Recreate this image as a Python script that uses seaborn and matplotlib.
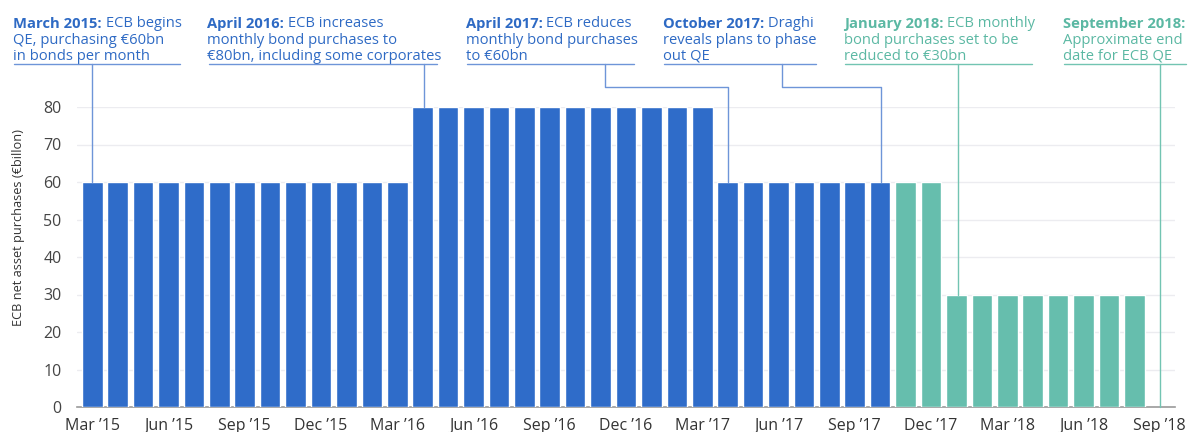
import matplotlib
matplotlib.use("Agg")
import matplotlib.pyplot as plt
import seaborn as sns
import pandas as pd

# ---- data ----
month_labels = ["Mar '15", "Apr '15", "May '15", "Jun '15", "Jul '15", "Aug '15", "Sep '15", "Oct '15",
                "Nov '15", "Dec '15", "Jan '16", "Feb '16", "Mar '16", "Apr '16", "May '16", "Jun '16",
                "Jul '16", "Aug '16", "Sep '16", "Oct '16", "Nov '16", "Dec '16", "Jan '17", "Feb '17",
                "Mar '17", "Apr '17", "May '17", "Jun '17", "Jul '17", "Aug '17", "Sep '17", "Oct '17",
                "Nov '17", "Dec '17", "Jan '18", "Feb '18", "Mar '18", "Apr '18", "May '18", "Jun '18",
                "Jul '18", "Aug '18"]
purchases = [60, 60, 60, 60, 60, 60, 60, 60, 60, 60, 60, 60, 60,
             80, 80, 80, 80, 80, 80, 80, 80, 80, 80, 80, 80,
             60, 60, 60, 60, 60, 60, 60,
             60, 60,
             30, 30, 30, 30, 30, 30, 30, 30]
phase = ["actual"] * 32 + ["planned"] * 10
tick_labels = ["Mar \u201915", "Jun \u201915", "Sep \u201915", "Dec \u201915", "Mar \u201916", "Jun \u201916",
               "Sep \u201916", "Dec \u201916", "Mar \u201917", "Jun \u201917", "Sep \u201917", "Dec \u201917",
               "Mar \u201918", "Jun \u201918", "Sep \u201918"]
y_ticks = [0, 10, 20, 30, 40, 50, 60, 70, 80]

BLUE = "#2f6cc9"
TEAL = "#66bead"
BLUE_TXT = "#2e6ac4"
TEAL_TXT = "#5bb8a3"
BLUE_LN = "#6e95d8"
TEAL_LN = "#72c4b2"

sns.set_theme(style="white")
plt.rcParams["font.family"] = ["Open Sans", "DejaVu Sans"]

df = pd.DataFrame({"month": month_labels, "value": purchases, "phase": phase})

fig = plt.figure(figsize=(11.9, 4.32), dpi=100)
ax = fig.add_axes([77 / 1190, 1 - 407 / 432, (1175 - 77) / 1190, 300 / 432])
sns.barplot(data=df, x="month", y="value", hue="phase", palette={"actual": BLUE, "planned": TEAL},
            dodge=False, width=0.81, saturation=1, legend=False, ax=ax, zorder=3)

ax.set_xlim(-0.6, 42.6)
ax.set_ylim(0, 80)
ax.set_yticks(y_ticks)
ax.set_yticklabels([str(v) for v in y_ticks], fontsize=11.5, color="#444444")
ax.set_xticks(range(0, 43, 3))
ax.set_xticklabels(tick_labels, fontsize=11.5, color="#333333")
ax.tick_params(axis="y", length=0, pad=11)
ax.tick_params(axis="x", length=0, pad=8)
ax.grid(axis="y", color="#ececf0", linewidth=1, zorder=0)
ax.set_axisbelow(True)
for s in ["top", "right", "left"]:
    ax.spines[s].set_visible(False)
ax.spines["bottom"].set_color("#9a9a9a")
ax.spines["bottom"].set_linewidth(1.2)
ax.set_xlabel("")
ax.set_ylabel("ECB net asset purchases (\u20acbillon)", fontsize=9.2, color="#333333")
ax.yaxis.set_label_coords(-0.047, 0.6)

RULE_Y = 91.6
ELBOW_Y = 85.3
LINE_Y = [101.0, 96.8, 92.6]

annotations = [
    # (text_x, rule_end, bold, rest_line1, line2, line3, path, text colour, line colour)
    (-3.11, 3.46, "March 2015:", " ECB begins", "QE, purchasing \u20ac60bn", "in bonds per month",
     [(0, RULE_Y), (0, 60)], BLUE_TXT, BLUE_LN),
    (4.53, 13.58, "April 2016:", " ECB increases", "monthly bond purchases to", "\u20ac80bn, including some corporates",
     [(13.05, RULE_Y), (13.05, 80)], BLUE_TXT, BLUE_LN),
    (14.69, 21.3, "April 2017:", " ECB reduces", "monthly bond purchases", "to \u20ac60bn",
     [(20.16, RULE_Y), (20.16, ELBOW_Y), (25, ELBOW_Y), (25, 60)], BLUE_TXT, BLUE_LN),
    (22.44, 28.46, "October 2017:", " Draghi", "reveals plans to phase", "out QE",
     [(27.13, RULE_Y), (27.13, ELBOW_Y), (31.05, ELBOW_Y), (31.05, 60)], BLUE_TXT, BLUE_LN),
    (29.57, 36.97, "January 2018:", " ECB monthly", "bond purchases set to be", "reduced to \u20ac30bn",
     [(34.05, RULE_Y), (34.05, 30)], TEAL_TXT, TEAL_LN),
    (38.19, 43.03, "September 2018:", "", "Approximate end", "date for ECB QE",
     [(42, RULE_Y), (42, 0)], TEAL_TXT, TEAL_LN),
]

FS = 10.6
for tx, rx, bold, rest, l2, l3, path, tc, lc in annotations:
    t = ax.text(tx, LINE_Y[0], bold, fontsize=FS, fontweight="bold", color=tc, va="baseline", ha="left",
                clip_on=False)
    if rest:
        ax.annotate(rest, xy=(1, 0), xycoords=t, va="bottom", ha="left", fontsize=FS, color=tc,
                    fontweight="medium", annotation_clip=False)
    ax.text(tx, LINE_Y[1], l2, fontsize=FS, color=tc, va="baseline", ha="left", clip_on=False,
            fontweight="medium")
    ax.text(tx, LINE_Y[2], l3, fontsize=FS, color=tc, va="baseline", ha="left", clip_on=False,
            fontweight="medium")
    ax.plot([tx + 0.05, rx], [RULE_Y, RULE_Y], color=lc, lw=1, clip_on=False, zorder=4)
    xs = [p[0] for p in path]
    ys = [p[1] for p in path]
    ax.plot(xs, ys, color=lc, lw=1, clip_on=False, zorder=4)

fig.savefig("out.png", dpi=100, facecolor="white")
